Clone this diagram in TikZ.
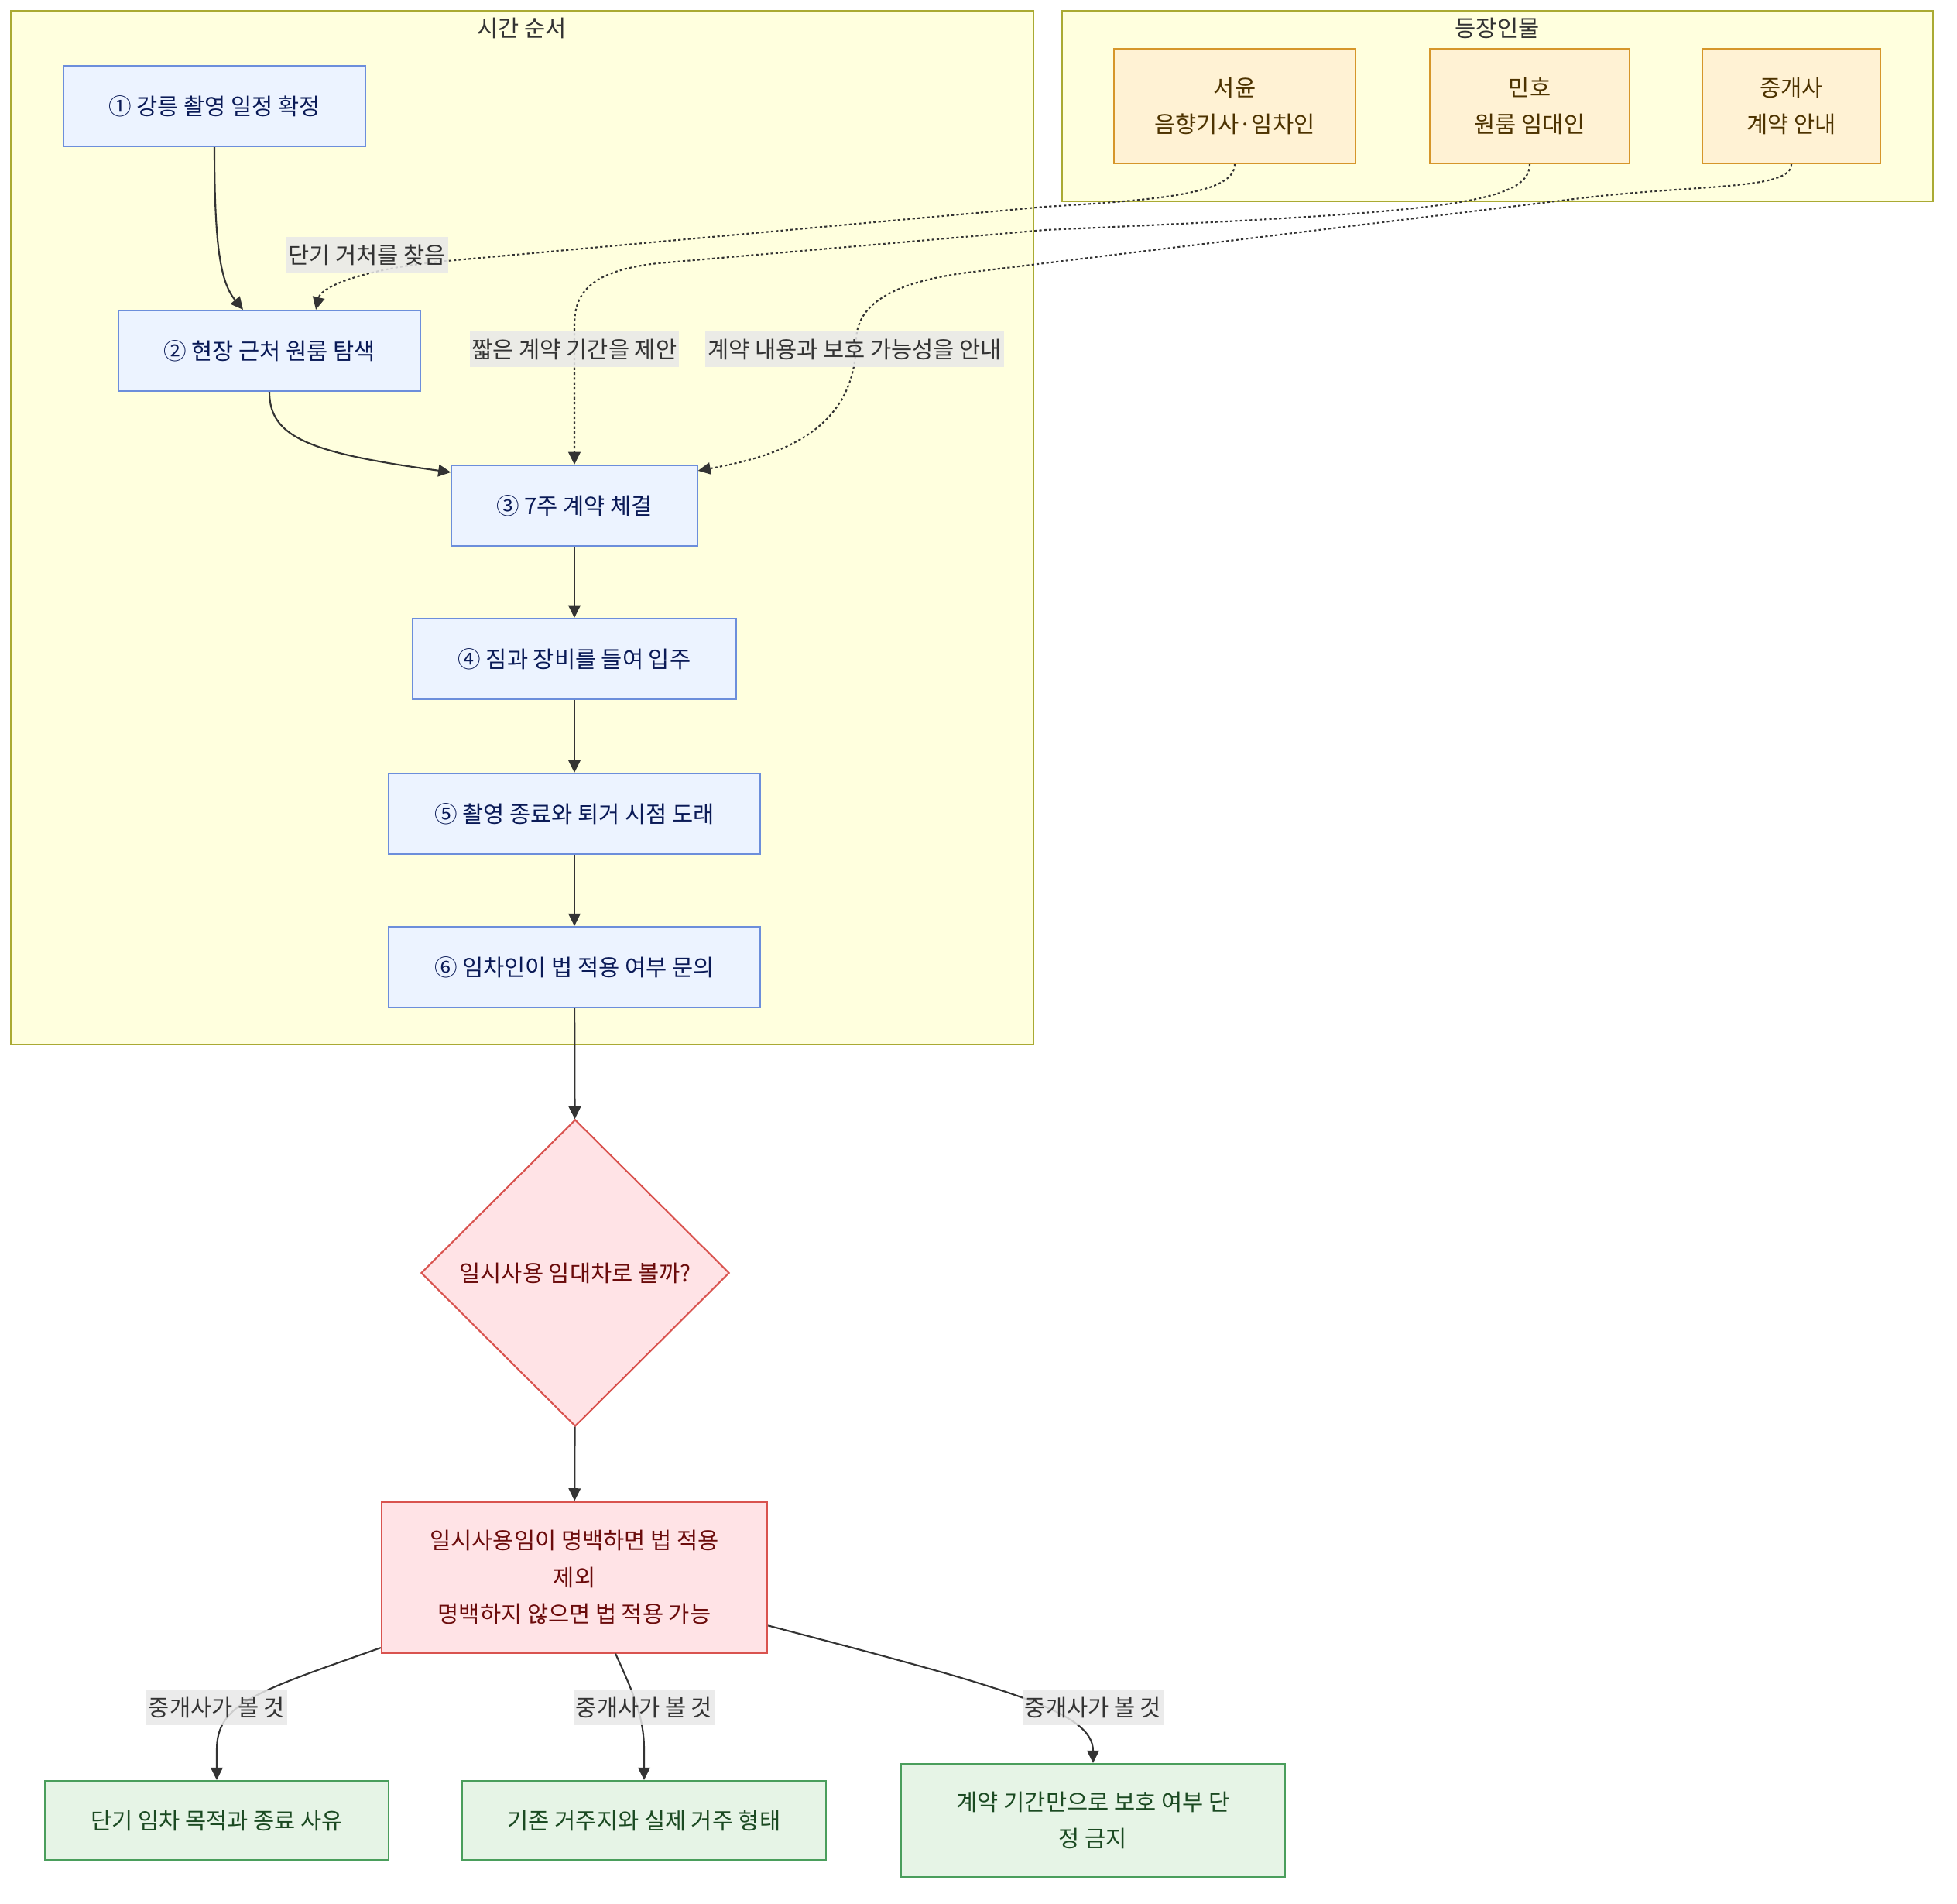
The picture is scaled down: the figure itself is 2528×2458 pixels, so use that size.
\documentclass[tikz,border=0pt]{standalone}
\usepackage{fontspec}
\setmainfont{Noto Sans CJK KR}
\usetikzlibrary{arrows.meta,shapes.geometric,backgrounds}

\definecolor{groupfill}{HTML}{FFFFDE}
\definecolor{groupline}{HTML}{AAAA33}
\definecolor{stepfill}{HTML}{ECF3FF}
\definecolor{stepline}{HTML}{6C8EDB}
\definecolor{steptext}{HTML}{0A1A57}
\definecolor{castfill}{HTML}{FFF2D4}
\definecolor{castline}{HTML}{D6962A}
\definecolor{casttext}{HTML}{4D3300}
\definecolor{askfill}{HTML}{FFE3E6}
\definecolor{askline}{HTML}{D9534F}
\definecolor{asktext}{HTML}{6B0B0B}
\definecolor{tipfill}{HTML}{E6F4E6}
\definecolor{tipline}{HTML}{4A9E5C}
\definecolor{tiptext}{HTML}{1B4A22}
\definecolor{edgecol}{HTML}{333333}
\definecolor{labelfill}{HTML}{E8E8E8}

\newcommand{\dfont}{\fontsize{8.4pt}{13.4pt}\selectfont}

\begin{document}
\begin{tikzpicture}[x=0.01cm,y=-0.01cm,line width=0.6pt,
    >={Triangle[length=4.6pt,width=4.4pt]},
    every node/.style={font=\dfont},
    group box/.style={draw=groupline,fill=groupfill},
    group title/.style={text=edgecol,inner sep=0pt},
    step node/.style={rectangle,draw=stepline,fill=stepfill,text=steptext,minimum height=1.04cm,inner sep=0pt},
    cast node/.style={rectangle,draw=castline,fill=castfill,text=casttext,minimum height=1.48cm,inner sep=0pt,align=center},
    check node/.style={diamond,aspect=1,draw=askline,fill=askfill,text=asktext,minimum width=3.98cm,minimum height=3.96cm,inner sep=0pt},
    rule node/.style={rectangle,draw=askline,fill=askfill,text=asktext,inner sep=0pt,align=center},
    tip node/.style={rectangle,draw=tipline,fill=tipfill,text=tiptext,inner sep=0pt,align=center},
    flow/.style={->,draw=edgecol},
    hint/.style={->,draw=edgecol,dash pattern=on 0.9pt off 0.9pt},
    edge label/.style={fill=labelfill,fill opacity=0.85,text opacity=1,text=edgecol,inner xsep=0.03cm,inner ysep=0pt,minimum height=0.45cm}]

  \fill[white] (0,0) rectangle (2528,2458);
  \useasboundingbox (0,0) rectangle (2528,2458);

  % groups
  \draw[group box] (14.5,14.5) rectangle (1335,1349);
  \draw[group box] (1372,14.5) rectangle (2497,260);
  \node[group title] (tline) at (674,36) {시간 순서};
  \node[group title] (tcast) at (1934,36) {등장인물};

  % cast
  \node[cast node,minimum width=3.11cm] (seoyun) at (1595,137) {서윤\\음향기사·임차인};
  \node[cast node,minimum width=2.57cm] (minho) at (1976,137) {민호\\원룸 임대인};
  \node[cast node,minimum width=2.30cm] (agent) at (2314,137) {중개사\\계약 안내};

  % timeline
  \node[step node,minimum width=3.90cm] (s1) at (277,137) {① 강릉 촬영 일정 확정};
  \node[step node,minimum width=3.90cm] (s2) at (348,453) {② 현장 근처 원룸 탐색};
  \node[step node,minimum width=3.17cm] (s3) at (742,653) {③ 7주 계약 체결};
  \node[step node,minimum width=4.17cm] (s4) at (742,851) {④ 짐과 장비를 들여 입주};
  \node[step node,minimum width=4.79cm] (s5) at (742,1051) {⑤ 촬영 종료와 퇴거 시점 도래};
  \node[step node,minimum width=4.79cm] (s6) at (742,1249) {⑥ 임차인이 법 적용 여부 문의};

  % decision
  \node[check node] (ask) at (743,1644) {일시사용 임대차로 볼까?};
  \node[rule node,minimum width=4.98cm,minimum height=1.95cm] (rule) at (742,2037)
    {일시사용임이 명백하면 법 적용\\제외\\명백하지 않으면 법 적용 가능};

  \node[tip node,minimum width=4.43cm,minimum height=1.02cm] (tip1) at (280,2351) {단기 임차 목적과 종료 사유};
  \node[tip node,minimum width=4.69cm,minimum height=1.02cm] (tip2) at (832,2351) {기존 거주지와 실제 거주 형태};
  \node[tip node,minimum width=4.96cm,minimum height=1.46cm] (tip3) at (1412,2351) {계약 기간만으로 보호 여부 단\\정 금지};

  % solid flow
  \draw[flow] (s1.south) .. controls (277,320) and (285,365) .. ([xshift=-0.34cm]s2.north);
  \draw[flow] (s2.south) .. controls (348,565) and (400,585) .. ([yshift=-0.1cm]s3.north west);
  \draw[flow] (s3) -- (s4);
  \draw[flow] (s4) -- (s5);
  \draw[flow] (s5) -- (s6);
  \draw[flow] (s6) -- (ask);
  \draw[flow] (ask) -- (rule);

  % cast links
  \draw[hint] (seoyun.south) .. controls (1595,250) and (1500,258) .. (1350,267) -- (577,337)
    .. controls (470,347) and (415,370) .. ([xshift=0.6cm]s2.north);
  \draw[hint] (minho.south) .. controls (1976,265) and (1850,275) .. (1350,297) -- (850,340)
    .. controls (760,350) and (742,380) .. (742,420) -- (s3.north);
  \draw[hint] (agent.south) .. controls (2314,245) and (2200,238) .. (2050,255) -- (1250,352)
    .. controls (1140,366) and (1106,400) .. (1106,440)
    .. controls (1106,560) and (1000,590) .. ([yshift=-0.08cm]s3.north east);

  % advice
  \draw[flow] (rule.200) .. controls (330,2185) and (280,2200) .. (280,2260) -- (tip1.north);
  \draw[flow] ([xshift=0.53cm]rule.south) .. controls (820,2190) and (832,2220) .. (832,2260) -- (tip2.north);
  \draw[flow] (rule.-14) .. controls (1300,2180) and (1412,2210) .. (tip3.north);

  % labels
  \node[edge label] (lb1) at (474,329) {단기 거처를 찾음};
  \node[edge label] (lb2) at (742,451) {짧은 계약 기간을 제안};
  \node[edge label] (lb3) at (1104,451) {계약 내용과 보호 가능성을 안내};
  \node[edge label] (lb4) at (280,2205) {중개사가 볼 것};
  \node[edge label] (lb5) at (832,2205) {중개사가 볼 것};
  \node[edge label] (lb6) at (1412,2205) {중개사가 볼 것};
\end{tikzpicture}
\end{document}
